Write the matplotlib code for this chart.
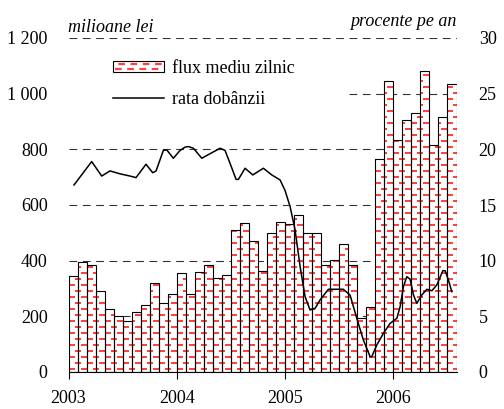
import numpy as np
import matplotlib
matplotlib.use('Agg')
import matplotlib.pyplot as plt
from matplotlib.path import Path
from matplotlib.patches import Patch, Rectangle
from matplotlib.lines import Line2D
from matplotlib.legend_handler import HandlerBase

plt.rcParams['font.family'] = ['Liberation Serif', 'DejaVu Serif']
plt.rcParams['font.size'] = 13

# monthly average daily flow (milioane lei), Jan 2003 .. Jul 2006
flux = [345, 394, 384, 290, 228, 202, 183, 217, 240, 319, 247, 280,
        355, 280, 360, 384, 337, 348, 510, 534, 471, 363, 500, 538,
        533, 563, 500, 498, 383, 402, 459, 383, 195, 232, 764, 1044,
        832, 907, 929, 1083, 814, 917, 1034]

# interest rate (procente pe an), x in months since Jan 2003
rate_month = [0.61, 2.57, 3.68, 4.6, 5.71, 6.82, 7.48, 8.59, 9.33, 9.7,
              10.51, 10.89, 11.62, 12.36, 12.92, 13.28, 13.84, 14.77, 16.8, 17.35,
              17.9, 18.57, 18.83, 19.57, 20.42, 21.6, 22.53, 23.45, 24.0, 24.56,
              25.11, 25.67, 26.22, 26.77, 27.33, 27.88, 28.8, 30.47, 31.21, 31.95,
              32.68, 33.43, 33.6, 34.17, 34.9, 35.64, 36.39, 36.75, 37.12, 37.49,
              37.86, 38.23, 38.6, 39.16, 39.71, 40.27, 40.82, 41.49, 41.74, 42.1,
              42.48]
rate = [16.8, 18.9, 17.6, 18.06, 17.8, 17.6, 17.46, 18.66, 17.9, 18.05,
        19.9, 19.95, 19.2, 19.9, 20.2, 20.25, 20.1, 19.2, 20.1, 19.9,
        18.75, 17.3, 17.3, 18.3, 17.7, 18.3, 17.7, 17.25, 16.3, 14.85,
        12.76, 9.46, 6.77, 5.57, 5.72, 6.47, 7.43, 7.43, 6.9, 4.82,
        2.87, 1.37, 1.37, 2.43, 3.47, 4.37, 4.82, 5.87, 7.66, 8.56,
        8.33, 6.92, 6.17, 6.92, 7.43, 7.3, 7.82, 9.1, 9.1, 8.27,
        7.22]

years = ['2003', '2004', '2005', '2006']
left_ticks = [0, 200, 400, 600, 800, 1000, 1200]
left_labels = ['0', '200', '400', '600', '800', '1 000', '1 200']
right_ticks = [0, 5, 10, 15, 20, 25, 30]

RED = (1, 0.12, 0.12, 0.85)


class DashBoxHandler(HandlerBase):
    # white box with red dashes, like the bar fill
    def create_artists(self, legend, orig_handle, xdescent, ydescent,
                       width, height, fontsize, trans):
        box = Rectangle((-xdescent, -ydescent), width, height, facecolor='white',
                        edgecolor='black', linewidth=0.8, transform=trans)
        arts = [box]
        for frac, off in [(0.3, 0), (0.72, 4)]:
            y = -ydescent + frac * height
            ln = Line2D([-xdescent + 1, -xdescent + width - 1], [y, y], color=RED,
                        linewidth=1.6, linestyle=(off, (3, 2.5)), transform=trans)
            arts.append(ln)
        return arts


months = np.arange(len(flux))

fig = plt.figure(figsize=(5.04, 4.09), dpi=100)
ax = fig.add_axes([68.5 / 504, 1 - 372 / 409, 388 / 504, 334 / 409])

ax.set_xlim(0, len(flux))
ax.set_ylim(0, 1200)

# bars: white fill, red dash texture, black outline
bars = ax.bar(months, flux, width=1, align='edge', facecolor='white',
              edgecolor='none', zorder=2)

H, W = 334, 388
tex = np.zeros((H, W, 4))
for r, y in enumerate(range(2, H, 6)):
    phase = (r % 2) * 6.0
    x0 = phase - 12.0
    while x0 < W:
        a, b = int(round(x0)), int(round(x0 + 5.5))
        a = max(a, 0)
        if b > 0:
            tex[y:y + 2, a:min(b, W)] = RED
        x0 += 12.0
im = ax.imshow(tex, extent=(0, len(flux), 0, 1200), origin='lower',
               aspect='auto', interpolation='nearest', zorder=2.5)
clip = Path.make_compound_path(*[p.get_path().transformed(p.get_patch_transform())
                                 for p in bars.patches])
im.set_clip_path(clip, ax.transData)

ax.bar(months, flux, width=1, align='edge', facecolor='none',
       edgecolor='black', linewidth=0.8, zorder=3)

# grid
ax.set_yticks(left_ticks)
ax.set_yticklabels(left_labels)
ax.set_axisbelow(True)
ax.yaxis.grid(True, color='#333333', linewidth=0.8, linestyle=(0, (7, 5)))
ax.tick_params(axis='y', length=0, pad=15)

# white box behind legend
ax.add_patch(Rectangle((0, 0.74), 0.718, 0.22, transform=ax.transAxes,
                       facecolor='white', edgecolor='none', zorder=1))

ax.set_xticks([0, 12, 24, 36])
ax.set_xticklabels(years)
ax.tick_params(axis='x', direction='out', length=5, width=0.8, pad=8)
for s in ['top', 'left', 'right']:
    ax.spines[s].set_visible(False)
ax.spines['bottom'].set_linewidth(0.8)

ax2 = ax.twinx()
ax2.plot(rate_month, rate, color='black', linewidth=1.1, zorder=4)
ax2.set_ylim(0, 30)
ax2.set_yticks(right_ticks)
ax2.tick_params(axis='y', length=0, pad=16)
for s in ['top', 'left', 'right', 'bottom']:
    ax2.spines[s].set_visible(False)

bar_handle = Patch(facecolor='white', edgecolor='black')
line_handle = Line2D([], [], color='black', linewidth=1.1)
ax2.legend([bar_handle, line_handle], ['flux mediu zilnic', 'rata dobânzii'],
           handler_map={Patch: DashBoxHandler()},
           loc='upper left', bbox_to_anchor=(0.115, 0.935), frameon=False,
           borderpad=0, borderaxespad=0, handlelength=2.8, handleheight=0.6,
           handletextpad=0.45, labelspacing=0.8, fontsize=13)

fig.text(68 / 504, 1 - 28 / 409, 'milioane lei', style='italic', ha='left', va='center')
fig.text(456 / 504, 1 - 22 / 409, 'procente pe an', style='italic', ha='right', va='center')

fig.savefig('out.png', dpi=100)
